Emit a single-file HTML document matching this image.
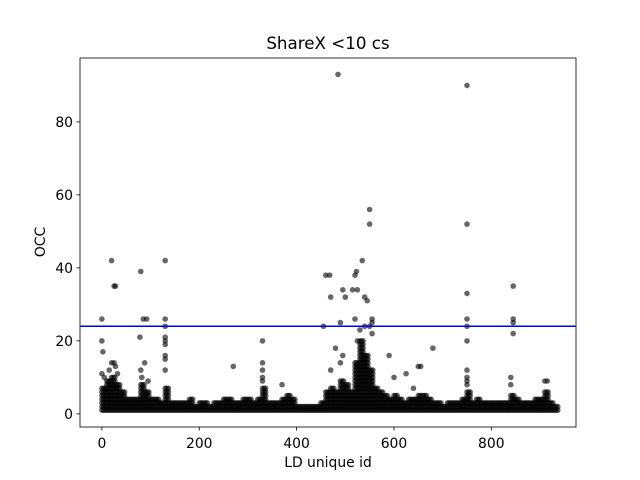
<!DOCTYPE html>
<html><head><meta charset="utf-8"><style>
body{margin:0;background:#fff}
svg{display:block;font-family:"DejaVu Sans","Liberation Sans",sans-serif}
</style></head><body>
<svg id="chart" width="640" height="480" viewBox="0 0 640 480" xmlns="http://www.w3.org/2000/svg">
<rect width="640" height="480" fill="#fff"/>
<text x="328" y="49" font-size="16.7" text-anchor="middle">ShareX &lt;10 cs</text>
<g id="marks"></g>
<g id="axes"></g>
<text x="328" y="467" font-size="13.9" text-anchor="middle">LD unique id</text>
<text transform="translate(45,242) rotate(-90)" font-size="13.9" text-anchor="middle">OCC</text>
</svg>
<script>
const baseIds = [0,10,20,30,40,50,60,70,80,90,100,110,120,130,140,150,160,170,180,190,200,210,220,230,240,250,260,270,280,290,300,310,320,330,340,350,360,370,380,390,400,410,420,430,440,450,460,470,480,490,500,510,520,530,540,550,560,570,580,590,600,610,620,630,640,650,660,670,680,690,700,710,720,730,740,750,760,770,780,790,800,810,820,830,840,850,860,870,880,890,900,910,920,930];
const baseMax = [7,9,10,8,6,4,4,4,8,6,4,4,3,7,3,3,3,3,4,2,3,3,2,3,3,4,4,3,3,4,4,3,4,7,3,3,3,4,5,4,2,2,2,2,2,3,6,7,6,9,8,6,14,20,16,12,7,6,5,4,5,4,3,4,4,5,5,4,3,3,2,3,3,3,4,6,3,4,3,3,3,3,3,3,5,4,3,3,3,4,4,6,3,2];
const outIds = [0,0,2,20,25,28,78,80,85,92,130,130,130,130,330,455,460,468,470,485,490,495,500,515,520,523,525,535,540,545,550,550,555,555,590,680,750,750,750,750,750,750,845,845,845,845,625,650,655,600,270,370,520,525,530,540,550,555,0,5,15,20,25,28,32,80,82,88,95,130,130,130,130,130,330,330,330,330,470,480,490,495,750,750,750,750,840,840,910,915,640];
const outVals = [26,20,17,42,35,35,21,39,26,26,42,26,24,16,20,24,38,38,32,93,25,34,32,34,38,39,34,42,32,31,56,52,26,25,16,18,90,52,33,26,24,20,35,26,25,22,11,13,13,10,13,8,26,20,23,24,24,22,11,10,12,14,14,13,11,12,10,14,9,19,20,21,15,12,14,12,10,9,12,18,14,16,9,10,12,8,10,8,9,9,7];
const xTicks = [0,200,400,600,800];
const yTicks = [0,20,40,60,80];
const refLine = 24;

const L=80,R=576,T=58,B=427;
const xMin=-45,xMax=974,yMin=-3.6,yMax=97.5;
const sx=v=>L+(v-xMin)/(xMax-xMin)*(R-L);
const sy=v=>B-(v-yMin)/(yMax-yMin)*(B-T);
const NS="http://www.w3.org/2000/svg";
const marks=document.getElementById('marks');
const axes=document.getElementById('axes');
function dot(x,y){
  const c=document.createElementNS(NS,'circle');
  c.setAttribute('cx',sx(x).toFixed(1));c.setAttribute('cy',sy(y).toFixed(1));
  c.setAttribute('r','2.8');c.setAttribute('fill','#000');c.setAttribute('fill-opacity','0.6');
  
  
  marks.appendChild(c);
}
baseIds.forEach((id,i)=>{
  for(let k=0;k<3;k++){
    for(let v=1;v<=baseMax[i];v++){dot(id+k*3.3,v);}
  }
});
outIds.forEach((id,i)=>dot(id,outVals[i]));

const ln=document.createElementNS(NS,'line');
ln.setAttribute('x1',L);ln.setAttribute('x2',R);ln.setAttribute('y1',sy(refLine));ln.setAttribute('y2',sy(refLine));
ln.setAttribute('stroke','#0000ff');ln.setAttribute('stroke-width','1.5');


axes.appendChild(ln);

const fr=document.createElementNS(NS,'rect');
fr.setAttribute('x',L);fr.setAttribute('y',T);fr.setAttribute('width',R-L);fr.setAttribute('height',B-T);
fr.setAttribute('fill','none');fr.setAttribute('stroke','#000');fr.setAttribute('stroke-width','0.8');


axes.appendChild(fr);

xTicks.forEach(t=>{
  const x=sx(t);
  const l=document.createElementNS(NS,'line');
  l.setAttribute('x1',x);l.setAttribute('x2',x);l.setAttribute('y1',B);l.setAttribute('y2',B+3.5);l.setAttribute('stroke','#000');l.setAttribute('stroke-width','0.8');
  
  
  axes.appendChild(l);
  const tx=document.createElementNS(NS,'text');
  tx.setAttribute('x',x);tx.setAttribute('y',B+21);tx.setAttribute('font-size','13.9');tx.setAttribute('text-anchor','middle');
  tx.textContent=t;
  
  
  axes.appendChild(tx);
});
yTicks.forEach(t=>{
  const y=sy(t);
  const l=document.createElementNS(NS,'line');
  l.setAttribute('x1',L-3.5);l.setAttribute('x2',L);l.setAttribute('y1',y);l.setAttribute('y2',y);l.setAttribute('stroke','#000');l.setAttribute('stroke-width','0.8');
  
  
  axes.appendChild(l);
  const tx=document.createElementNS(NS,'text');
  tx.setAttribute('x',L-7);tx.setAttribute('y',y+5);tx.setAttribute('font-size','13.9');tx.setAttribute('text-anchor','end');
  tx.textContent=t;
  
  
  axes.appendChild(tx);
});
</script>
</body></html>
